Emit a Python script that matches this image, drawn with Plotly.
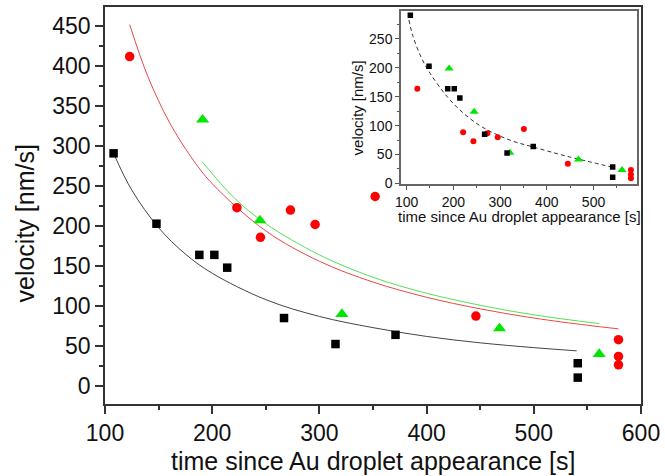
import plotly.graph_objects as go

# ---------------- main plot data ----------------
black_t = [108, 148, 188, 202, 214, 267, 315, 371, 541, 541]
black_v = [291, 203, 164, 164, 148, 85, 52.5, 64, 28.5, 10.5]

red_t = [123, 223, 245, 273, 296, 446, 579, 579, 579]
red_v = [412, 223, 186, 220, 202, 87.5, 58, 37, 26.5]

green_t = [191, 244.5, 321, 468, 561]
green_v = [333, 207, 90, 72, 40]

# fitted curves
black_fit_t = [108, 125, 150, 175, 200, 250, 300, 350, 400, 450, 500, 540]
black_fit_v = [291, 245, 198, 165, 141, 108, 87, 73, 62, 54, 48, 44]

red_fit_t = [123, 140, 160, 180, 200, 250, 300, 350, 400, 450, 500, 550, 579]
red_fit_v = [452, 387, 330, 287, 253, 194, 156, 130, 111, 96.5, 85, 76, 71.5]

green_fit_t = [191, 220, 250, 300, 350, 400, 450, 500, 561]
green_fit_v = [280, 236, 203, 164, 136, 116, 101, 89, 78]

stray_t = [352]
stray_v = [237]

# ---------------- inset data ----------------
inset_black_t = black_t
inset_black_v = black_v

inset_red_t = [123, 221, 243, 273, 295, 351, 445, 580, 580, 580]
inset_red_v = [164, 88.5, 73, 87, 80, 94, 34, 23, 15.5, 9]

inset_green_t = [191, 244.5, 321, 468, 561]
inset_green_v = [199, 124, 53, 41.5, 23]

inset_fit_t = [105, 114, 132, 150, 186, 221, 257, 293, 328, 371, 443, 541]
inset_fit_v = [283, 254, 217, 191, 151, 122, 100, 84.5, 73, 63, 47, 28]

x_title = "time since Au droplet appearance [s]"
y_title = "velocity [nm/s]"

RED = "#ff0000"
GREEN = "#00e600"
FONT = "Arial, Liberation Sans, sans-serif"

fig = go.Figure()

# main curves
fig.add_trace(go.Scatter(x=black_fit_t, y=black_fit_v, mode="lines", line=dict(color="#444444", width=1, shape="spline")))
fig.add_trace(go.Scatter(x=red_fit_t, y=red_fit_v, mode="lines", line=dict(color="#e84848", width=1, shape="spline")))
fig.add_trace(go.Scatter(x=green_fit_t, y=green_fit_v, mode="lines", line=dict(color="#55e055", width=1, shape="spline")))

# main markers
fig.add_trace(go.Scatter(x=black_t, y=black_v, mode="markers", marker=dict(symbol="square", size=8.5, color="black")))
fig.add_trace(go.Scatter(x=red_t, y=red_v, mode="markers", marker=dict(symbol="circle", size=9.5, color=RED)))
fig.add_trace(go.Scatter(x=green_t, y=green_v, mode="markers", marker=dict(symbol="triangle-up", size=11.5, color=GREEN)))
fig.add_trace(go.Scatter(x=stray_t, y=stray_v, mode="markers", marker=dict(symbol="circle", size=9.5, color=RED)))

# inset
fig.add_trace(go.Scatter(x=inset_fit_t, y=inset_fit_v, mode="lines", xaxis="x2", yaxis="y2",
                         line=dict(color="#333333", width=1, dash="4px,3px", shape="spline")))
fig.add_trace(go.Scatter(x=inset_red_t, y=inset_red_v, mode="markers", xaxis="x2", yaxis="y2",
                         marker=dict(symbol="circle", size=6, color=RED)))
fig.add_trace(go.Scatter(x=inset_green_t, y=inset_green_v, mode="markers", xaxis="x2", yaxis="y2",
                         marker=dict(symbol="triangle-up", size=8, color=GREEN)))
fig.add_trace(go.Scatter(x=inset_black_t, y=inset_black_v, mode="markers", xaxis="x2", yaxis="y2",
                         marker=dict(symbol="square", size=5.5, color="black")))

axis_common = dict(showline=True, linecolor="#333333", linewidth=1.5, mirror=True,
                   ticks="outside", tickcolor="#333333", tickwidth=1.5,
                   showgrid=False, zeroline=False, automargin=False)

inset_common = dict(showline=True, linecolor="#666666", linewidth=1.5, mirror=True,
                    ticks="outside", tickcolor="#555555", tickwidth=1, ticklen=4,
                    showgrid=False, zeroline=False, automargin=False,
                    tickfont=dict(size=14))

fig.update_layout(
    width=665, height=476,
    margin=dict(l=105, r=24, t=7, b=72, autoexpand=False),
    plot_bgcolor="white", paper_bgcolor="white",
    showlegend=False,
    font=dict(family=FONT, color="#111111"),
    xaxis=dict(range=[100, 600], tick0=0, dtick=100, ticklen=8,
               minor=dict(dtick=50, ticks="outside", ticklen=4, tickcolor="#333333", tickwidth=1.5),
               tickfont=dict(size=23), **axis_common),
    yaxis=dict(range=[-22.5, 474], tick0=0, dtick=50, ticklen=8,
               minor=dict(dtick=25, ticks="outside", ticklen=4, tickcolor="#333333", tickwidth=1.5),
               tickfont=dict(size=23), **axis_common),
    xaxis2=dict(domain=[0.5522, 0.9925], anchor="y2", range=[88, 593], tick0=0, dtick=100,
                minor=dict(dtick=50, ticks="outside", ticklen=2, tickcolor="#555555", tickwidth=1),
                **inset_common),
    yaxis2=dict(domain=[0.5542, 0.9907], anchor="x2", range=[-1, 299], tick0=0, dtick=50,
                minor=dict(dtick=25, ticks="outside", ticklen=2, tickcolor="#555555", tickwidth=1),
                **inset_common),
    annotations=[
        dict(text=x_title, xref="paper", yref="paper", x=0.5, y=-0.143, xanchor="center", yanchor="middle",
             showarrow=False, font=dict(size=25)),
        dict(text=y_title, xref="paper", yref="paper", x=-0.149, y=0.455, xanchor="center", yanchor="middle",
             textangle=-90, showarrow=False, font=dict(size=25)),
        dict(text=x_title, xref="paper", yref="paper", x=0.7733, y=0.473, xanchor="center", yanchor="middle",
             showarrow=False, font=dict(size=15)),
        dict(text=y_title, xref="paper", yref="paper", x=0.4701, y=0.747, xanchor="center", yanchor="middle",
             textangle=-90, showarrow=False, font=dict(size=15)),
    ],
)

fig.write_html("out.html", config={"displayModeBar": False},
               post_script="document.body.style.margin='0px';document.body.style.overflow='hidden';")
